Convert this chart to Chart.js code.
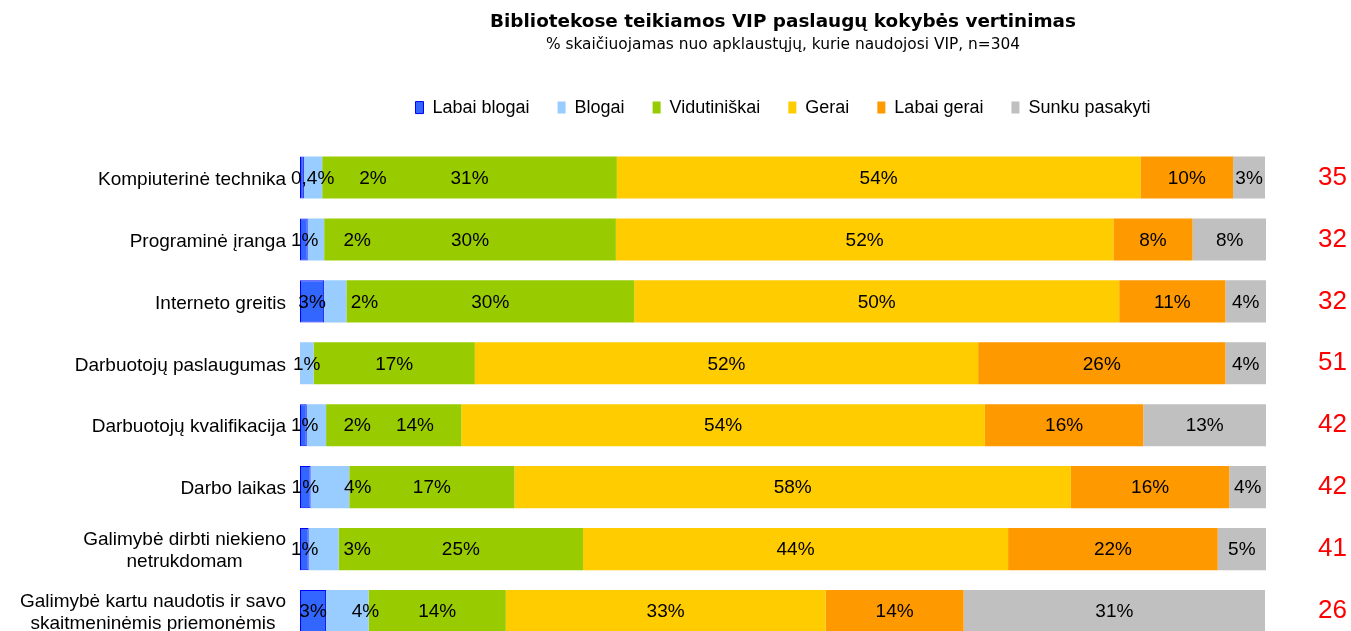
<!DOCTYPE html>
<html>
<head>
<meta charset="utf-8">
<script src="https://cdn.jsdelivr.net/npm/chart.js@4.4.0/dist/chart.umd.min.js"></script>
<style>
  html, body { margin: 0; padding: 0; background: #fff; overflow: hidden; }
  canvas { display: block; }
</style>
</head>
<body>
<canvas id="chart" width="1351" height="642"></canvas>
<script>
const categories = [
  'Kompiuterinė technika',
  'Programinė įranga',
  'Interneto greitis',
  'Darbuotojų paslaugumas',
  'Darbuotojų kvalifikacija',
  'Darbo laikas',
  ['Galimybė dirbti niekieno', 'netrukdomam'],
  ['Galimybė kartu naudotis ir savo', 'skaitmeninėmis priemonėmis']
];
const seriesNames = ['Labai blogai', 'Blogai', 'Vidutiniškai', 'Gerai', 'Labai gerai', 'Sunku pasakyti'];
const labaiBlogai = [0.4, 0.8, 2.5, 0, 0.7, 1.1, 0.9, 2.7];
const blogai = [1.9, 1.7, 2.3, 1.4, 2.0, 4.0, 3.1, 4.4];
const vidutiniskai = [30.5, 30.2, 29.8, 16.7, 14.0, 17.1, 25.3, 14.2];
const gerai = [54.2, 51.5, 50.2, 52.1, 54.2, 57.6, 44.0, 33.1];
const labaiGerai = [9.6, 8.2, 11.0, 25.6, 16.4, 16.4, 21.7, 14.3];
const sunkuPasakyti = [3.3, 7.7, 4.2, 4.2, 12.7, 3.8, 5.0, 31.2];
const respondents = ['35', '32', '32', '51', '42', '42', '41', '26'];

const colors = ['#3366ff', '#99ccff', '#99cc00', '#ffcc00', '#ff9900', '#c0c0c0'];
const values = [labaiBlogai, blogai, vidutiniskai, gerai, labaiGerai, sunkuPasakyti];

const FONT = '"Liberation Sans", Arial, sans-serif';

function fmt(v) {
  const r = Math.round(v);
  return (r === 0 ? v.toFixed(1).replace('.', ',') : r) + '%';
}

// value labels inside the bars + centred category labels on the left
const labelPlugin = {
  id: 'barLabels',
  afterDatasetsDraw(chart) {
    const ctx = chart.ctx;
    const area = chart.chartArea;
    ctx.save();
    ctx.font = '19px ' + FONT;
    ctx.fillStyle = '#000';
    ctx.textBaseline = 'middle';
    ctx.textAlign = 'center';
    const lastRight = [];
    chart.data.datasets.forEach((ds, di) => {
      chart.getDatasetMeta(di).data.forEach((bar, i) => {
        const v = ds.data[i];
        if (!v) return;
        const txt = fmt(v);
        const w = ctx.measureText(txt).width;
        let left = (bar.x + bar.base) / 2 - w / 2;
        const minLeft = lastRight[i] !== undefined ? lastRight[i] + 25 : area.left - 9;
        if (left < minLeft) left = minLeft;
        ctx.fillText(txt, left + w / 2, bar.y + 1);
        lastRight[i] = left + w;
      });
    });

    const yScale = chart.scales.y;
    categories.forEach((lab, i) => {
      const lines = Array.isArray(lab) ? lab : [lab];
      const blockW = Math.max(...lines.map(l => ctx.measureText(l).width));
      const cx = area.left - 14 - blockW / 2;
      const y = yScale.getPixelForValue(i);
      lines.forEach((l, j) => {
        ctx.fillText(l, cx, y + 2 + (j - (lines.length - 1) / 2) * 22);
      });
    });
    ctx.restore();
  }
};

new Chart(document.getElementById('chart'), {
  type: 'bar',
  data: {
    labels: categories,
    datasets: values.map((d, i) => ({
      label: seriesNames[i],
      data: d,
      backgroundColor: colors[i],
      borderColor: i === 0 ? '#0000ff' : colors[i],
      borderWidth: i === 0 ? 1 : 0,
      borderSkipped: false,
      barPercentage: 0.68,
      categoryPercentage: 1
    }))
  },
  options: {
    indexAxis: 'y',
    responsive: false,
    animation: false,
    devicePixelRatio: 1,
    layout: { padding: 0, autoPadding: false },
    plugins: {
      title: {
        display: true,
        text: 'Bibliotekose teikiamos VIP paslaugų kokybės vertinimas',
        fullSize: false,
        color: '#000',
        font: { family: '"DejaVu Sans"', size: 18.4, weight: 'bold' },
        padding: { top: 11, bottom: 2 }
      },
      subtitle: {
        display: true,
        text: '% skaičiuojamas nuo apklaustųjų, kurie naudojosi VIP, n=304',
        fullSize: false,
        color: '#000',
        font: { family: '"DejaVu Sans"', size: 15.4 },
        padding: { top: 1, bottom: 16 }
      },
      legend: {
        position: 'top',
        fullSize: false,
        labels: {
          color: '#000',
          font: { family: FONT, size: 18 },
          boxWidth: 8,
          boxHeight: 12,
          padding: 28
        }
      },
      tooltip: { enabled: false }
    },
    scales: {
      x: {
        stacked: true,
        min: 0,
        max: 100,
        position: 'top',
        ticks: { display: false },
        grid: { display: false, drawTicks: false },
        border: { display: false },
        afterFit: s => { s.height = 20; }
      },
      y: {
        stacked: true,
        ticks: { display: false },
        grid: { display: false, drawTicks: false },
        border: { display: false },
        afterFit: s => { s.width = 300; }
      },
      y2: {
        type: 'category',
        labels: respondents,
        position: 'right',
        offset: true,
        ticks: { color: '#ff0000', font: { family: FONT, size: 26 }, padding: 52 },
        grid: { display: false, drawTicks: false },
        border: { display: false },
        afterFit: s => { s.width = 85; s.paddingTop = 0; s.paddingBottom = 0; }
      }
    }
  },
  plugins: [labelPlugin]
});
</script>
</body>
</html>
